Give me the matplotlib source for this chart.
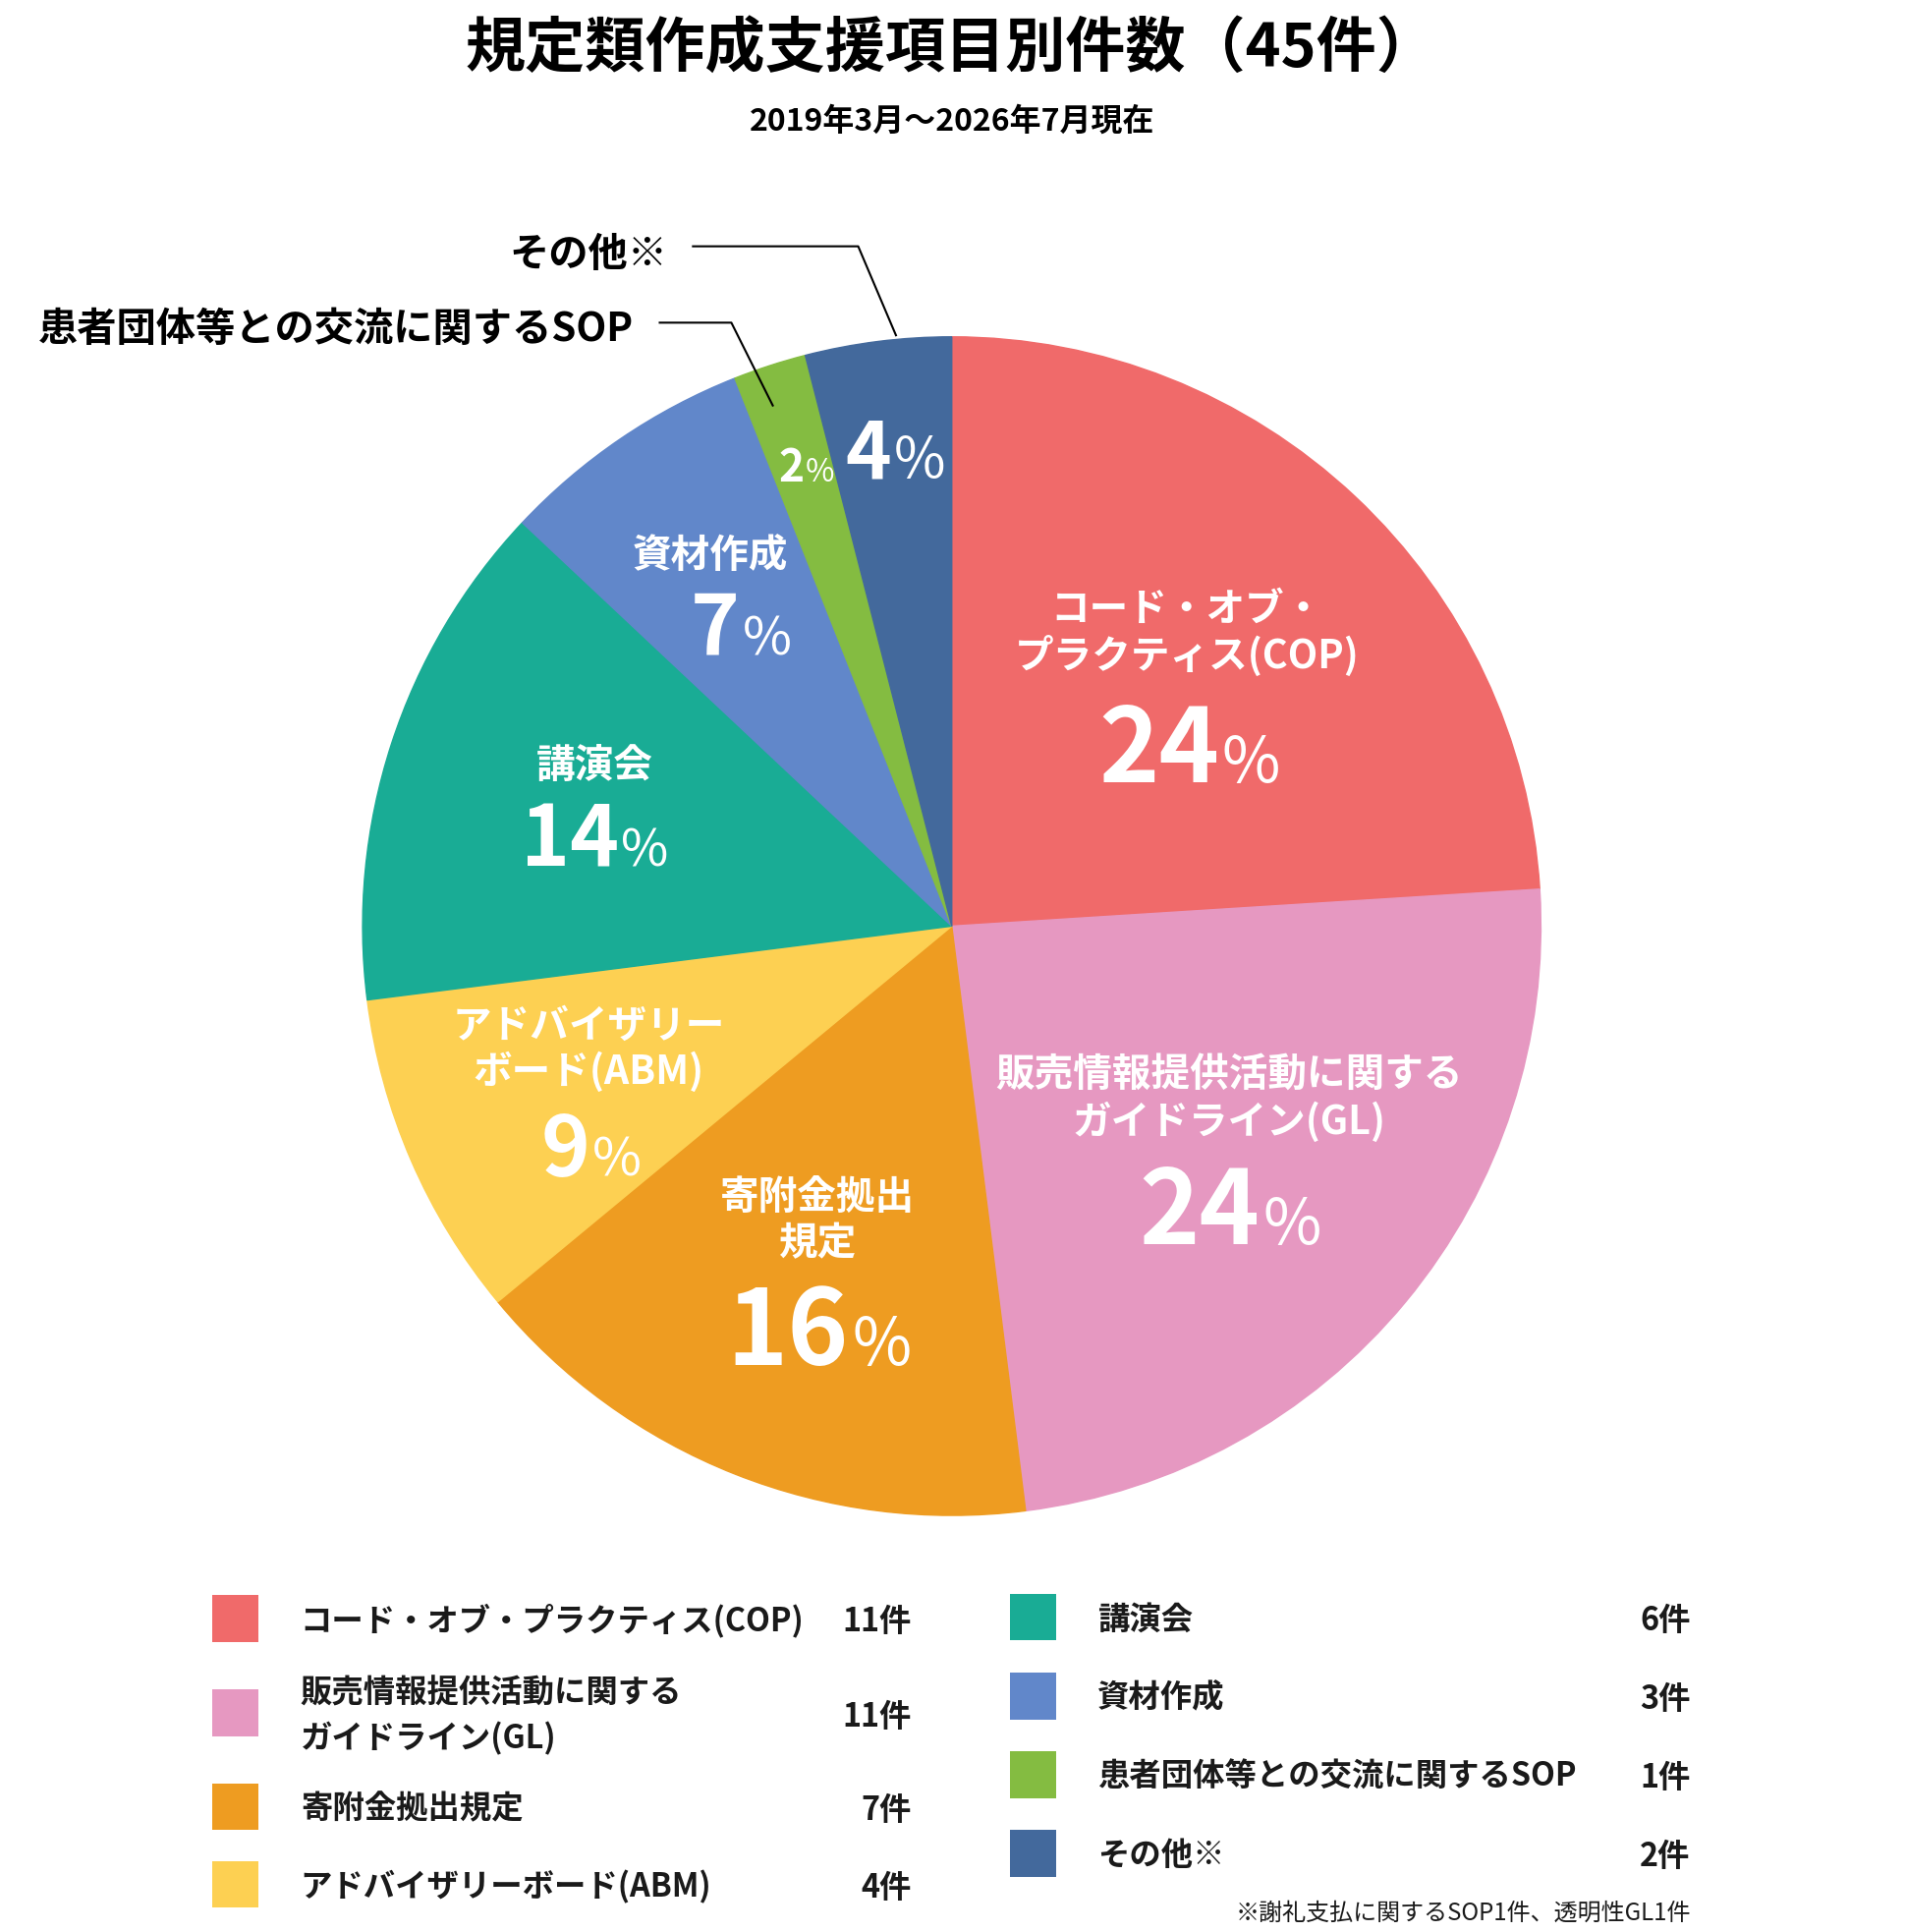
import matplotlib
matplotlib.use("Agg")
import matplotlib.pyplot as plt

plt.rcParams["font.family"] = ["Noto Sans CJK JP", "DejaVu Sans"]

W, H = 1940, 1966
DPI = 100

TITLE = "規定類作成支援項目別件数（45件）"
SUBTITLE = "2019年3月～2026年7月現在"
FOOTNOTE = "※謝礼支払に関するSOP1件、透明性GL1件"

# data, in pie order (clockwise from 12 o'clock)
CATEGORIES = ["コード・オブ・プラクティス(COP)", "販売情報提供活動に関する\nガイドライン(GL)",
              "寄附金拠出規定", "アドバイザリーボード(ABM)", "講演会", "資材作成",
              "患者団体等との交流に関するSOP", "その他※"]
COUNTS = [11, 11, 7, 4, 6, 3, 1, 2]
PCT_LABELS = [24, 24, 16, 9, 14, 7, 2, 4]          # as printed; the slices follow these
SLICE_LABELS = [["コード・オブ・", "プラクティス(COP)"],
                ["販売情報提供活動に関する", "ガイドライン(GL)"],
                ["寄附金拠出", "規定"],
                ["アドバイザリー", "ボード(ABM)"],
                ["講演会"], ["資材作成"], [], []]
COLORS = ["#F06A6A", "#E698C1", "#EE9C21", "#FDD052",
          "#19AC95", "#6187CA", "#84BC41", "#43699C"]

# layout, measured on a 1548 px wide copy, scaled by K to the real canvas
K = W / 1548
CX, CY, R = 773, 752, 478.5
LABEL_XY = [(964, 495), (998, 873), (664, 972), (478, 833),
            (483, 622), (577, 451), None, None]
PCT_XY = [(966, 635), (999, 1010), (665, 1108), (480, 955),
          (483, 703), (602, 532), (655, 391), (727, 388)]
PCT_SIZE = [75, 75, 76, 61, 61, 61, 32, 57]
SIGN_RATIO = [0.62, 0.62, 0.62, 0.64, 0.62, 0.64, 0.72, 0.72]
LINE_GAP = 38


def X(x):
    return x * K


def Y(y):
    return H - y * K


fig = plt.figure(figsize=(W / DPI, H / DPI), dpi=DPI)
ax = fig.add_axes([0, 0, 1, 1])
wedges, _ = ax.pie(PCT_LABELS, colors=COLORS, startangle=90, counterclock=False,
                   center=(X(CX), Y(CY)), radius=R * K, wedgeprops=dict(linewidth=1))
for w in wedges:
    w.set_edgecolor(w.get_facecolor())
ax.set_xlim(0, W)
ax.set_ylim(0, H)
ax.set_aspect("equal")
ax.axis("off")

ax.text(X(772), Y(40), TITLE, fontsize=44, fontweight="bold", ha="center", va="center")
ax.text(X(773), Y(99), SUBTITLE, fontsize=23, fontweight="bold", ha="center", va="center")

# white category labels inside slices
for lines, xy in zip(SLICE_LABELS, LABEL_XY):
    if not xy:
        continue
    for i, line in enumerate(lines):
        ax.text(X(xy[0]), Y(xy[1] + i * LINE_GAP), line, color="white", fontsize=28.5,
                fontweight="bold", ha="center", va="center")

# big percentages: bold digits + lighter, smaller "%"
fig.canvas.draw()
renderer = fig.canvas.get_renderer()
for pct, (x, y), size, ratio in zip(PCT_LABELS, PCT_XY, PCT_SIZE, SIGN_RATIO):
    num = ax.text(0, Y(y), str(pct), color="white", fontsize=size, fontweight="bold",
                  ha="left", va="baseline")
    sign = ax.text(0, Y(y), "%", color="white", fontsize=size * ratio, fontweight="normal",
                   ha="left", va="baseline")
    wn = num.get_window_extent(renderer).width
    ws = sign.get_window_extent(renderer).width
    gap = size * 0.04
    x0 = X(x) - (wn + gap + ws) / 2
    num.set_x(x0)
    sign.set_x(x0 + wn + gap)

# callouts for the two thin slices
CALLOUTS = [("患者団体等との交流に関するSOP", (515, 268), [(535, 262), (594, 262), (628, 330)]),
            ("その他※", (542, 207), [(562, 200), (697, 200), (728, 273)])]
for text, (tx, ty), pts in CALLOUTS:
    ax.text(X(tx), Y(ty), text, fontsize=29, fontweight="bold", ha="right", va="center")
    ax.plot([X(p[0]) for p in pts], [Y(p[1]) for p in pts], color="black", lw=1.5,
            solid_capstyle="butt")

# legend
LEG_LEFT = dict(sq_x=172, tx=244, cx=740, rows=[1314, 1391, 1467, 1530])
LEG_RIGHT = dict(sq_x=820, tx=891, cx=1373, rows=[1313, 1377, 1441, 1505])
SQ = 38
for i, (cat, n, col) in enumerate(zip(CATEGORIES, COUNTS, COLORS)):
    lay = LEG_LEFT if i < 4 else LEG_RIGHT
    y = lay["rows"][i % 4]
    ax.add_patch(plt.Rectangle((X(lay["sq_x"]), Y(y) - SQ * K / 2), SQ * K, SQ * K,
                               color=col, lw=0))
    parts = cat.split("\n")
    for j, part in enumerate(parts):
        off = (j - (len(parts) - 1) / 2) * 37
        ax.text(X(lay["tx"]), Y(y + off + 2), part, fontsize=23.3, fontweight="bold",
                ha="left", va="center", color="#1a1a1a")
    ax.text(X(lay["cx"]), Y(y + 3), f"{n}件", fontsize=23.3, fontweight="bold",
            ha="right", va="center", color="#1a1a1a")

ax.text(X(1373), Y(1553), FOOTNOTE, fontsize=17.3, ha="right", va="center", color="#1a1a1a")

fig.savefig("out.png", dpi=DPI)
